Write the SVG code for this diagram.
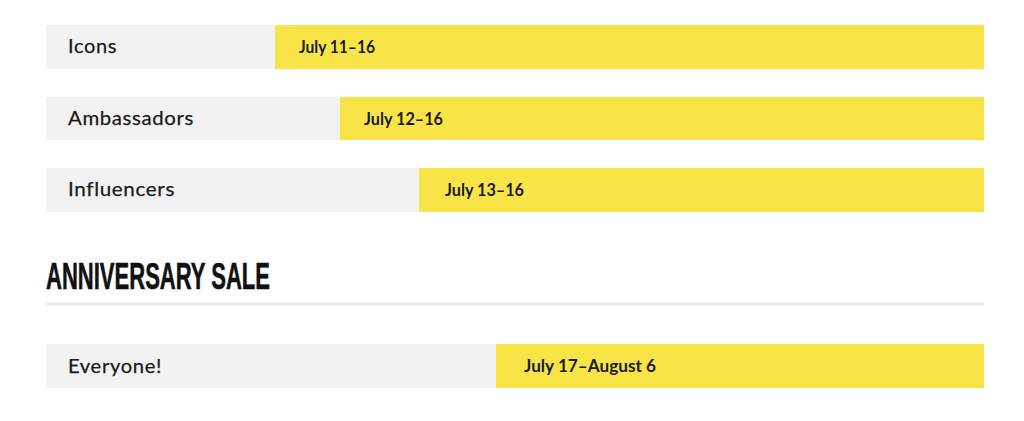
<svg xmlns="http://www.w3.org/2000/svg" width="1024" height="421" viewBox="0 0 1024 421">
<style>
.bg{fill:#f2f2f2}
.hl{fill:#f9e448}
.lbl{font-family:Lato,"Open Sans","Liberation Sans",sans-serif;font-size:19px;fill:#1a1a1a;letter-spacing:0.6px;stroke:#1a1a1a;stroke-width:0.25px}
.dt{font-family:Lato,"Open Sans","Liberation Sans",sans-serif;font-size:16.5px;font-weight:bold;fill:#1a1a1a}
.ttl{font-family:"Liberation Sans",Arial,sans-serif;font-size:37px;font-weight:bold;fill:#111;stroke:#111;stroke-width:0.6px}
</style>
<rect width="1024" height="421" fill="#ffffff"/>
<g id="icons">
<rect class="bg" x="46" y="25" width="938" height="44"/>
<rect class="hl" x="275" y="25" width="709" height="44"/>
<text class="lbl" x="68" y="53" textLength="49" lengthAdjust="spacingAndGlyphs">Icons</text>
<text class="dt" x="299" y="53" textLength="76" lengthAdjust="spacingAndGlyphs">July 11–16</text>
</g>
<g id="ambassadors">
<rect class="bg" x="46" y="97" width="938" height="43"/>
<rect class="hl" x="340" y="97" width="644" height="43"/>
<text class="lbl" x="68" y="125" textLength="126" lengthAdjust="spacingAndGlyphs">Ambassadors</text>
<text class="dt" x="364" y="125" textLength="79" lengthAdjust="spacingAndGlyphs">July 12–16</text>
</g>
<g id="influencers">
<rect class="bg" x="46" y="168" width="938" height="44"/>
<rect class="hl" x="419" y="168" width="565" height="44"/>
<text class="lbl" x="68" y="196" textLength="107" lengthAdjust="spacingAndGlyphs">Influencers</text>
<text class="dt" x="445" y="196" textLength="79" lengthAdjust="spacingAndGlyphs">July 13–16</text>
</g>
<g id="title">
<text class="ttl" x="46" y="289" textLength="224" lengthAdjust="spacingAndGlyphs">ANNIVERSARY SALE</text>
<line x1="46" y1="304" x2="984" y2="304" stroke="#cccccc" stroke-width="1.2"/>
</g>
<g id="everyone">
<rect class="bg" x="46" y="344" width="938" height="44"/>
<rect class="hl" x="496" y="344" width="488" height="44"/>
<text class="lbl" x="68" y="373" textLength="94" lengthAdjust="spacingAndGlyphs">Everyone!</text>
<text class="dt" x="524" y="372" textLength="132" lengthAdjust="spacingAndGlyphs">July 17–August 6</text>
</g>
<g id="connectors"></g>
</svg>
